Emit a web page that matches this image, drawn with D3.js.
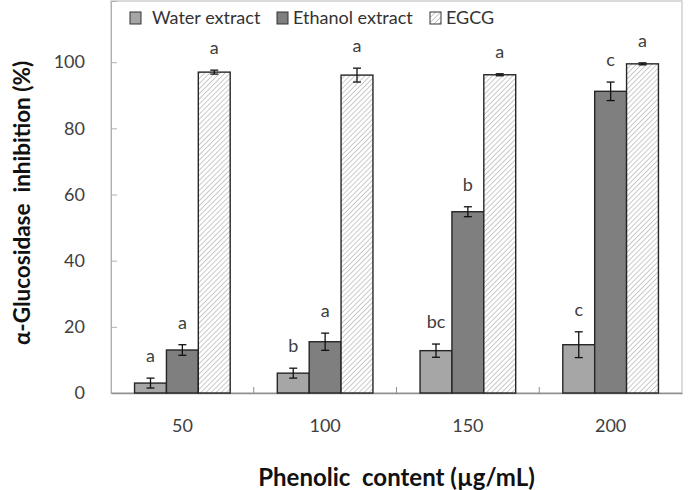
<!DOCTYPE html>
<html>
<head>
<meta charset="utf-8">
<script src="https://cdn.jsdelivr.net/npm/d3@7"></script>
<style>
  body { margin: 0; background: #fff; }
  svg { display: block; font-family: Lato, "Open Sans", sans-serif; }
</style>
</head>
<body>
<svg id="chart" width="690" height="490"></svg>
<script>
// data
const categories = ['50', '100', '150', '200'];
const seriesNames = ['Water extract', 'Ethanol extract', 'EGCG'];
const water   = [3.0, 6.0, 12.8, 14.6];
const ethanol = [13.0, 15.5, 54.8, 91.2];
const egcg    = [97.0, 96.1, 96.2, 99.5];
const waterErr   = [1.5, 1.5, 2.0, 3.9];
const ethanolErr = [1.6, 2.6, 1.5, 2.8];
const egcgErr    = [0.6, 2.1, 0.3, 0.3];
const waterSig   = ['a', 'b', 'bc', 'c'];
const ethanolSig = ['a', 'a', 'b', 'c'];
const egcgSig    = ['a', 'a', 'a', 'a'];
const yTicks = [0, 20, 40, 60, 80, 100];

const W = 690, H = 490;
const M = { top: 1, right: 8, bottom: 97, left: 111 };
const svg = d3.select('#chart');

const x0 = d3.scaleBand().domain(categories)
  .range([M.left, W - M.right]).paddingInner(0.33).paddingOuter(0.165);
const x1 = d3.scaleBand().domain(seriesNames).range([0, x0.bandwidth()]);
const y = d3.scaleLinear().domain([0, 118.5]).range([H - M.bottom, M.top]);

// hatch pattern for EGCG
const defs = svg.append('defs');
const pat = defs.append('pattern')
  .attr('id', 'hatch')
  .attr('patternUnits', 'userSpaceOnUse')
  .attr('width', 3.6).attr('height', 3.6)
  .attr('patternTransform', 'rotate(45)');
pat.append('rect').attr('width', 3.6).attr('height', 3.6).attr('fill', '#fff');
pat.append('line').attr('x1', 0).attr('y1', 0).attr('x2', 0).attr('y2', 3.6)
  .attr('stroke', '#a0a0a0').attr('stroke-width', 1.1);

const FILLS = { 'Water extract': '#a6a6a6', 'Ethanol extract': '#7f7f7f', 'EGCG': 'url(#hatch)' };

// plot frame
svg.append('rect')
  .attr('x', M.left).attr('y', M.top)
  .attr('width', W - M.right - M.left).attr('height', H - M.bottom - M.top)
  .attr('fill', 'none').attr('stroke', '#d0d0d0').attr('stroke-width', 1.5);

// y axis
const yAxis = svg.append('g')
  .attr('transform', `translate(${M.left},0)`)
  .call(d3.axisLeft(y).tickValues(yTicks).tickSize(-6).tickPadding(26));
yAxis.select('.domain').attr('stroke', '#b0b0b0');
yAxis.selectAll('.tick line').attr('stroke', '#b0b0b0');
yAxis.selectAll('.tick text').attr('font-size', 18).attr('fill', '#404040')
  .attr('font-family', 'Lato, sans-serif');

// x axis
const xAxis = svg.append('g')
  .attr('transform', `translate(0,${H - M.bottom})`)
  .call(d3.axisBottom(x0).tickSize(0).tickPadding(26));
xAxis.select('.domain').attr('stroke', '#909090').attr('stroke-width', 1.5);
xAxis.selectAll('.tick text').attr('font-size', 18).attr('fill', '#404040')
  .attr('font-family', 'Lato, sans-serif');

// minor ticks between categories
const step = x0.step();
svg.append('g').selectAll('line')
  .data(categories.slice(1))
  .join('line')
  .attr('x1', d => x0(d) - x0.paddingInner() * step / 2)
  .attr('x2', d => x0(d) - x0.paddingInner() * step / 2)
  .attr('y1', y(0)).attr('y2', y(0) - 6)
  .attr('stroke', '#909090');

// bars
const rows = categories.map((c, i) => ({
  cat: c,
  vals: [
    { s: 'Water extract', v: water[i], e: waterErr[i], sig: waterSig[i] },
    { s: 'Ethanol extract', v: ethanol[i], e: ethanolErr[i], sig: ethanolSig[i] },
    { s: 'EGCG', v: egcg[i], e: egcgErr[i], sig: egcgSig[i] },
  ]
}));

const grp = svg.append('g').selectAll('g')
  .data(rows).join('g')
  .attr('transform', d => `translate(${x0(d.cat)},0)`);

grp.selectAll('rect')
  .data(d => d.vals).join('rect')
  .attr('x', d => x1(d.s))
  .attr('y', d => y(d.v))
  .attr('width', x1.bandwidth())
  .attr('height', d => y(0) - y(d.v))
  .attr('fill', d => FILLS[d.s])
  .attr('stroke', '#262626').attr('stroke-width', 1.4);

// error bars
const eb = grp.selectAll('g.err')
  .data(d => d.vals).join('g').attr('class', 'err')
  .attr('transform', d => `translate(${x1(d.s) + x1.bandwidth() / 2},0)`);
eb.append('line').attr('y1', d => y(d.v - d.e)).attr('y2', d => y(d.v + d.e))
  .attr('stroke', '#111').attr('stroke-width', 1.3);
eb.append('line').attr('x1', -4).attr('x2', 4)
  .attr('y1', d => y(d.v + d.e)).attr('y2', d => y(d.v + d.e))
  .attr('stroke', '#111').attr('stroke-width', 1.3);
eb.append('line').attr('x1', -4).attr('x2', 4)
  .attr('y1', d => y(d.v - d.e)).attr('y2', d => y(d.v - d.e))
  .attr('stroke', '#111').attr('stroke-width', 1.3);

// significance letters
eb.append('text')
  .attr('y', d => y(d.v + d.e) - 16)
  .attr('text-anchor', 'middle')
  .attr('font-size', 18).attr('fill', '#404040')
  .text(d => d.sig);

// legend
const legendX = [130, 277, 430];
const lg = svg.append('g').selectAll('g')
  .data(seriesNames).join('g')
  .attr('transform', (d, i) => `translate(${legendX[i]},12)`);
lg.append('rect').attr('width', 11).attr('height', 12)
  .attr('fill', d => FILLS[d]).attr('stroke', '#333').attr('stroke-width', 1);
lg.append('text').attr('x', (d, i) => i === 0 ? 22 : 16).attr('y', 12)
  .attr('font-size', 18).attr('fill', '#333')
  .text(d => d);

// axis titles
svg.append('text')
  .attr('transform', `translate(30,${(M.top + H - M.bottom) / 2 + 6}) rotate(-90)`)
  .attr('text-anchor', 'middle')
  .attr('font-size', 22.5).attr('font-weight', 'bold').attr('fill', '#111')
  .attr('xml:space', 'preserve')
  .text('α-Glucosidase  inhibition (%)');

svg.append('text')
  .attr('x', (M.left + W - M.right) / 2).attr('y', 486)
  .attr('text-anchor', 'middle')
  .attr('font-size', 24).attr('font-weight', 'bold').attr('fill', '#111')
  .attr('xml:space', 'preserve')
  .text('Phenolic  content (µg/mL)');
</script>
</body>
</html>
